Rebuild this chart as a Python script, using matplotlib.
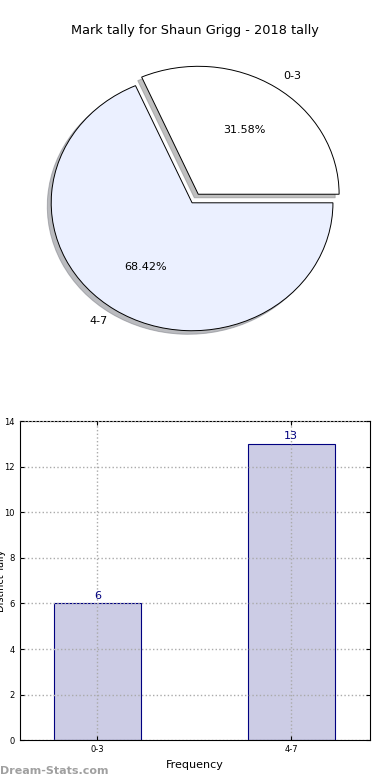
import matplotlib
matplotlib.use("Agg")
import matplotlib.pyplot as plt

# data
categories = ["0-3", "4-7"]
counts = [6, 13]
pie_colors = ["#FFFFFF", "#EBF0FF"]
title = "Mark tally for Shaun Grigg - 2018 tally"
yticks = [0, 2, 4, 6, 8, 10, 12, 14]

plt.rcParams['font.family'] = ['DejaVu Sans']
fig = plt.figure(figsize=(3.9, 7.8), dpi=100)

# pie
axp = fig.add_axes([0.041, 0.535, 0.903, 0.410])
wedges, texts, autotexts = axp.pie(
    counts, labels=categories, colors=pie_colors, explode=[0.08, 0],
    autopct="%.2f%%", shadow=dict(ox=-0.02, oy=-0.02, shade=0.5), startangle=0,
    wedgeprops=dict(edgecolor="black", linewidth=0.7),
    textprops=dict(fontsize=8))
axp.set_aspect('auto')
axp.set_xlim(-1.25, 1.25)
axp.set_ylim(-1.25, 1.25)
fig.text(0.5, 0.961, title, ha='center', va='center', fontsize=9.3)

# bars
axb = fig.add_axes([0.051, 0.051, 0.897, 0.409])
x = list(range(len(categories)))
bars = axb.bar(x, counts, width=0.45, color="#CCCCE5", edgecolor="#000080", linewidth=0.8, zorder=2)
for xi, c in zip(x, counts):
    axb.text(xi, c + 0.12, str(c), ha='center', va='bottom', fontsize=8, color="#000080")
axb.set_xticks(x)
axb.set_xticklabels(categories)
axb.set_yticks(yticks)
axb.set_xlim(-0.4, 1.405)
axb.set_ylim(0, 14)
axb.grid(True, linestyle=':', color='#AAAAAA', linewidth=1.0, zorder=3)
axb.set_axisbelow(False)
axb.tick_params(direction='in', labelsize=6, top=True, right=True, length=3)
axb.set_xlabel("Frequency", fontsize=8, labelpad=4)
axb.set_ylabel("Distinct Tally", fontsize=7)
axb.yaxis.set_label_coords(-0.041, 0.5)

fig.text(0.0, 0.012, "Dream-Stats.com", ha='left', va='center', fontsize=8,
         color='#A0A0A0', fontweight='bold')

fig.savefig("out.png", dpi=100)
